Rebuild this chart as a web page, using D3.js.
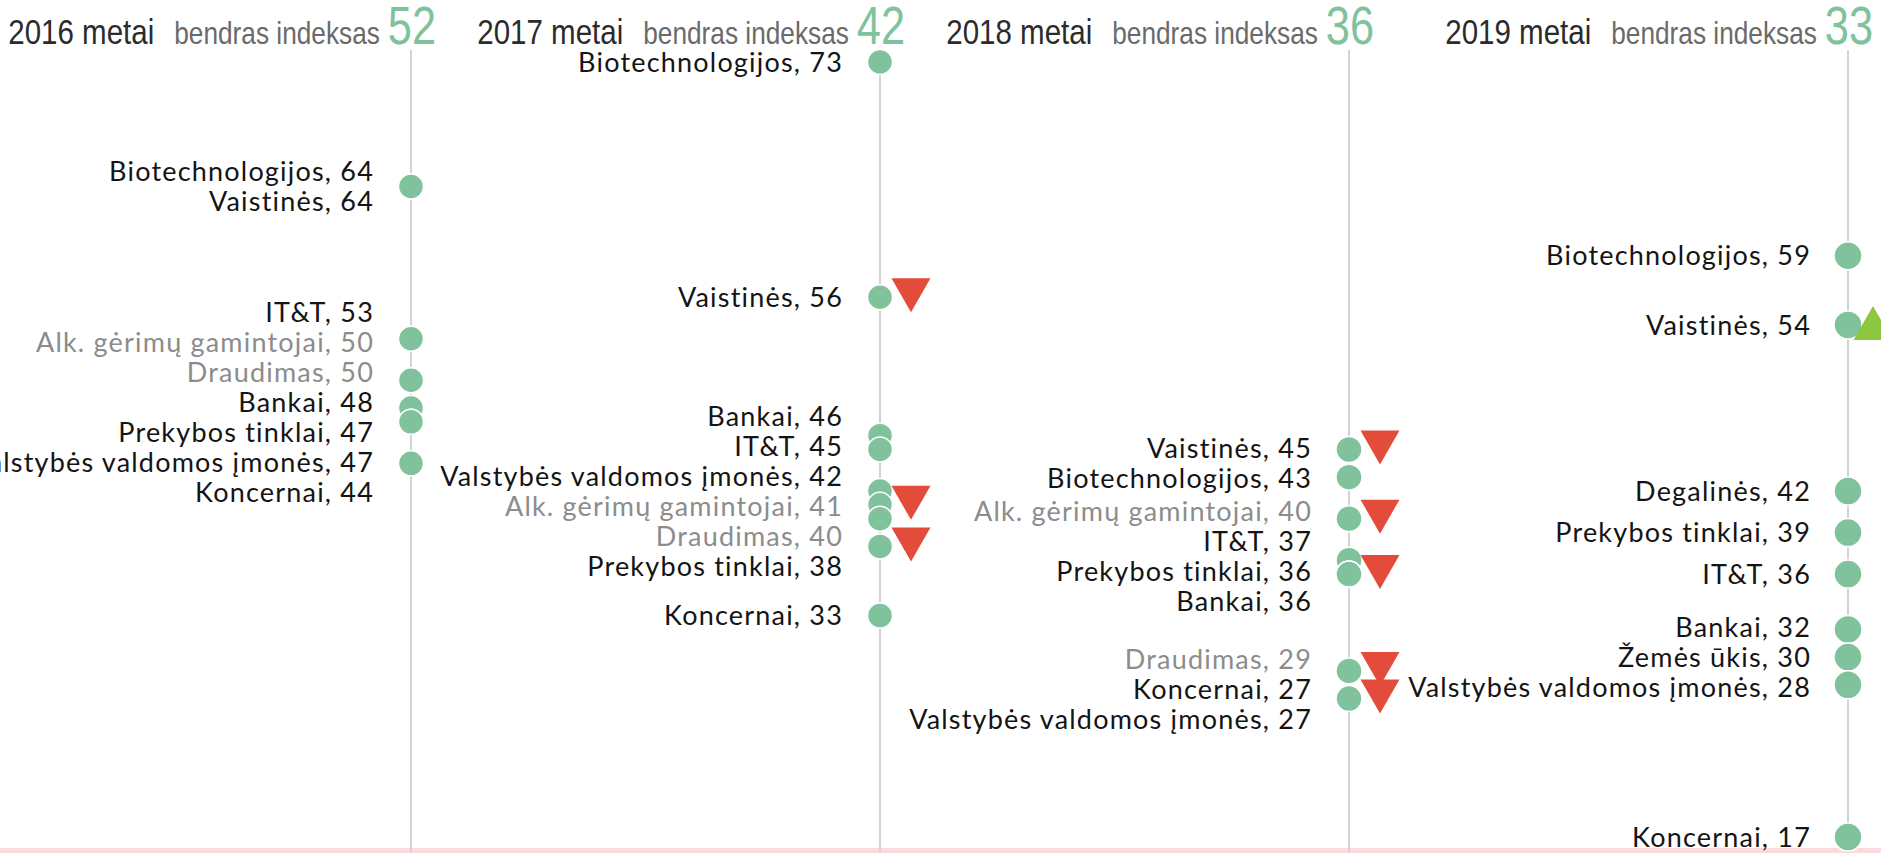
<!DOCTYPE html>
<html>
<head>
<meta charset="utf-8">
<script src="https://cdn.jsdelivr.net/npm/d3@7"></script>
<style>
  html, body { margin: 0; padding: 0; background: #ffffff; overflow: hidden; }
  svg { display: block; }
</style>
</head>
<body>
<svg id="chart" width="1881" height="853"></svg>
<script>
// ---------------- DATA ----------------
const years = ["2016", "2017", "2018", "2019"];
const overallIndex = [52, 42, 36, 33];

const labels2016 = ["Biotechnologijos", "Vaistinės", "IT&T", "Alk. gėrimų gamintojai", "Draudimas", "Bankai", "Prekybos tinklai", "Valstybės valdomos įmonės", "Koncernai"];
const values2016 = [64, 64, 53, 50, 50, 48, 47, 47, 44];

const labels2017 = ["Biotechnologijos", "Vaistinės", "Bankai", "IT&T", "Valstybės valdomos įmonės", "Alk. gėrimų gamintojai", "Draudimas", "Prekybos tinklai", "Koncernai"];
const values2017 = [73, 56, 46, 45, 42, 41, 40, 38, 33];

const labels2018 = ["Vaistinės", "Biotechnologijos", "Alk. gėrimų gamintojai", "IT&T", "Prekybos tinklai", "Bankai", "Draudimas", "Koncernai", "Valstybės valdomos įmonės"];
const values2018 = [45, 43, 40, 37, 36, 36, 29, 27, 27];

const labels2019 = ["Biotechnologijos", "Vaistinės", "Degalinės", "Prekybos tinklai", "IT&T", "Bankai", "Žemės ūkis", "Valstybės valdomos įmonės", "Koncernai"];
const values2019 = [59, 54, 42, 39, 36, 32, 30, 28, 17];

// trend markers (category names flagged in each year)
const down2016 = [];
const down2017 = ["Vaistinės", "Alk. gėrimų gamintojai", "Prekybos tinklai"];
const down2018 = ["Vaistinės", "Alk. gėrimų gamintojai", "Bankai", "Draudimas", "Valstybės valdomos įmonės"];
const down2019 = [];
const up2016 = [], up2017 = [], up2018 = [];
const up2019 = ["Vaistinės"];

// categories shown with muted (grey) labels
const mutedCategories = ["Alk. gėrimų gamintojai", "Draudimas"];

// ---------------- BUILD ----------------
const columns = [
  { year: years[0], overall: overallIndex[0], labels: labels2016, values: values2016, down: down2016, up: up2016 },
  { year: years[1], overall: overallIndex[1], labels: labels2017, values: values2017, down: down2017, up: up2017 },
  { year: years[2], overall: overallIndex[2], labels: labels2018, values: values2018, down: down2018, up: up2018 },
  { year: years[3], overall: overallIndex[3], labels: labels2019, values: values2019, down: down2019, up: up2019 }
];

const W = 1881, H = 853;
const svg = d3.select("#chart");

const GREEN = "#80c29c";
const RED = "#e34c3b";
const UPGREEN = "#8dc63f";

const x = d3.scaleOrdinal().domain(years).range([411, 880, 1349, 1848]);
const y = d3.scaleLinear().domain([17, 73]).range([837, 62]);
const radius = d3.scaleOrdinal().domain(years).range([12.5, 12.5, 13, 14]);

// bottom band
svg.append("rect").attr("x", 0).attr("y", 848).attr("width", W).attr("height", 5).attr("fill", "#fbdbe0");

// vertical guide lines
svg.selectAll("line.guide").data(columns).join("line")
  .attr("class", "guide")
  .attr("x1", d => x(d.year)).attr("x2", d => x(d.year))
  .attr("y1", 50).attr("y2", H)
  .attr("stroke", "#d3d3d3").attr("stroke-width", 2);

// headers
const headG = svg.append("g");

// detect narrow font availability (compare against a monospace fallback)
const probeTxt = "bendras indeksas 2016 metai";
const probeA = headG.append("text").attr("font-family", "'Liberation Sans Narrow', 'DejaVu Sans Mono', monospace").attr("font-size", 40).text(probeTxt);
const probeB = headG.append("text").attr("font-family", "'DejaVu Sans Mono', monospace").attr("font-size", 40).text(probeTxt);
const probeD = headG.append("text").attr("font-family", "'Liberation Sans', Arial, sans-serif").attr("font-size", 40).text(probeTxt);
const wA = probeA.node().getComputedTextLength(), wB = probeB.node().getComputedTextLength();
const wD = probeD.node().getComputedTextLength();
probeA.remove(); probeB.remove(); probeD.remove();
const narrowOK = Math.abs(wA - wB) > 1 && wA / wD < 0.9;
const fam = narrowOK ? "'Liberation Sans Narrow', sans-serif" : "'Liberation Sans', Arial, sans-serif";
const sx = narrowOK ? 1 : 0.82;

columns.forEach(col => {
  const cx = x(col.year);
  const g = headG.append("g").attr("transform", `translate(${cx + 1},44) scale(${sx},1)`);
  const num = g.append("text")
    .attr("text-anchor", "middle")
    .attr("font-family", fam).attr("font-size", 53)
    .attr("fill", GREEN)
    .text(col.overall);
  const numW = num.node().getComputedTextLength();
  const bend = g.append("text")
    .attr("x", -numW / 2 - 8 / sx)
    .attr("text-anchor", "end")
    .attr("font-family", fam).attr("font-size", 32)
    .attr("fill", "#6a6a6a")
    .text("bendras indeksas");
  const bendW = bend.node().getComputedTextLength();
  g.append("text")
    .attr("x", -numW / 2 - 8 / sx - bendW - 20 / sx)
    .attr("text-anchor", "end")
    .attr("font-family", fam).attr("font-size", 36)
    .attr("fill", "#2b2b2b")
    .text(`${col.year} metai`);
});

// label de-overlap (cluster merging)
function layoutLabels(targets, gap) {
  let groups = [];
  targets.forEach((t, i) => {
    groups.push({ idx: [i], sum: t });
    while (groups.length > 1) {
      const g = groups[groups.length - 1], p = groups[groups.length - 2];
      const gTop = g.sum / g.idx.length - (g.idx.length - 1) * gap / 2;
      const pBot = p.sum / p.idx.length + (p.idx.length - 1) * gap / 2;
      if (pBot + gap > gTop) {
        p.idx = p.idx.concat(g.idx); p.sum += g.sum; groups.pop();
      } else break;
    }
  });
  const out = new Array(targets.length);
  groups.forEach(g => {
    const c = g.sum / g.idx.length;
    g.idx.forEach((k, j) => { out[k] = c - (g.idx.length - 1) * gap / 2 + j * gap; });
  });
  return out;
}

const LABEL_FONT = "Lato, 'Noto Sans', sans-serif";
const LABEL_SIZE = 27;
const GAP = 30;

columns.forEach(col => {
  const cx = x(col.year);
  const r = radius(col.year);
  const items = col.labels.map((name, i) => ({ name, value: col.values[i] }));
  const ly = layoutLabels(items.map(d => y(d.value)), GAP);
  const g = svg.append("g");

  // labels
  g.selectAll("text.lab").data(items).join("text")
    .attr("class", "lab")
    .attr("x", cx - 37)
    .attr("y", (d, i) => ly[i])
    .attr("dy", "0.36em")
    .attr("text-anchor", "end")
    .attr("font-family", LABEL_FONT)
    .attr("font-size", LABEL_SIZE)
    .attr("letter-spacing", "1.2px")
    .attr("fill", d => mutedCategories.includes(d.name) ? "#8c8c8c" : "#141414")
    .text(d => `${d.name}, ${d.value}`);

  // circles
  g.selectAll("circle").data(items).join("circle")
    .attr("cx", cx)
    .attr("cy", d => y(d.value))
    .attr("r", r)
    .attr("fill", GREEN)
    .attr("stroke", "#ffffff")
    .attr("stroke-width", 1.5);

  // down triangles
  const tw = 39, th = 34;
  const downs = items.filter(d => col.down.includes(d.name));
  g.selectAll("path.down").data(downs).join("path")
    .attr("class", "down")
    .attr("d", d => {
      const tx = cx + 31, ty = y(d.value) - 2;
      return `M${tx - tw / 2},${ty - th / 2}L${tx + tw / 2},${ty - th / 2}L${tx},${ty + th / 2}Z`;
    })
    .attr("fill", RED);

  const ups = items.filter(d => col.up.includes(d.name));
  g.selectAll("path.up").data(ups).join("path")
    .attr("class", "up")
    .attr("d", d => {
      const tx = cx + 25, ty = y(d.value) - 2;
      return `M${tx - tw / 2},${ty + th / 2}L${tx + tw / 2},${ty + th / 2}L${tx},${ty - th / 2}Z`;
    })
    .attr("fill", UPGREEN);
});
</script>
</body>
</html>
